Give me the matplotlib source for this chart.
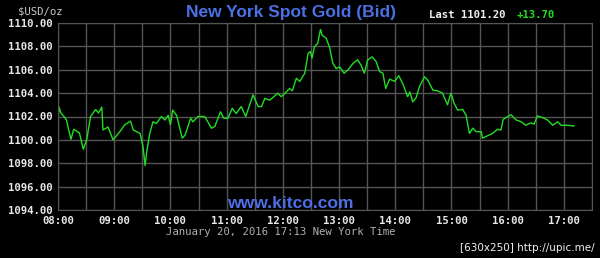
import matplotlib
matplotlib.use('Agg')
import matplotlib.pyplot as plt
import numpy as np

# time of day (decimal hours, New York) and bid price
hours = [8.00, 8.02, 8.05, 8.09, 8.15, 8.23, 8.28, 8.38, 8.45, 8.51,
         8.58, 8.67, 8.72, 8.78, 8.80, 8.89, 8.98, 9.10, 9.19, 9.29,
         9.34, 9.46, 9.51, 9.55, 9.58, 9.63, 9.69, 9.75, 9.84, 9.90,
         9.96, 10.00, 10.04, 10.11, 10.21, 10.26, 10.36, 10.40, 10.49, 10.61,
         10.73, 10.79, 10.89, 10.95, 11.02, 11.10, 11.17, 11.26, 11.34, 11.47,
         11.56, 11.62, 11.68, 11.77, 11.91, 11.97, 12.01, 12.12, 12.17, 12.24,
         12.30, 12.39, 12.45, 12.49, 12.52, 12.56, 12.62, 12.67, 12.70, 12.77,
         12.83, 12.89, 12.95, 13.01, 13.09, 13.16, 13.25, 13.33, 13.39, 13.45,
         13.51, 13.59, 13.66, 13.72, 13.78, 13.83, 13.90, 13.99, 14.06, 14.13,
         14.22, 14.26, 14.31, 14.37, 14.43, 14.52, 14.58, 14.67, 14.75, 14.84,
         14.93, 14.99, 15.05, 15.11, 15.20, 15.26, 15.32, 15.38, 15.44, 15.53,
         15.55, 15.64, 15.73, 15.82, 15.88, 15.92, 16.00, 16.06, 16.15, 16.24,
         16.32, 16.41, 16.47, 16.53, 16.62, 16.71, 16.80, 16.89, 16.95, 17.04,
         17.18]
price = [1101.8, 1102.8, 1102.3, 1102.1, 1101.7, 1100.05, 1100.9, 1100.6, 1099.2, 1100.0,
         1102.0, 1102.6, 1102.3, 1102.8, 1100.85, 1101.1, 1100.0, 1100.7, 1101.3, 1101.6,
         1100.85, 1100.55, 1099.5, 1097.8, 1099.0, 1100.5, 1101.55, 1101.4, 1102.0, 1101.7,
         1102.1, 1101.3, 1102.55, 1102.1, 1100.15, 1100.4, 1101.85, 1101.55, 1102.0, 1102.0,
         1101.0, 1101.15, 1102.4, 1101.85, 1101.85, 1102.7, 1102.25, 1102.85, 1102.0, 1103.85,
         1102.85, 1102.85, 1103.55, 1103.4, 1104.0, 1103.7, 1103.85, 1104.4, 1104.2, 1105.27,
         1105.0, 1105.7, 1107.4, 1107.55, 1107.0, 1107.95, 1108.25, 1109.45, 1108.95, 1108.7,
         1107.95, 1106.55, 1106.1, 1106.25, 1105.7, 1106.0, 1106.55, 1106.85, 1106.4, 1105.7,
         1106.85, 1107.1, 1106.7, 1105.85, 1105.7, 1104.4, 1105.2, 1105.0, 1105.5, 1104.85,
         1103.7, 1104.1, 1103.25, 1103.6, 1104.55, 1105.4, 1105.1, 1104.25, 1104.2, 1104.0,
         1103.0, 1104.0, 1103.1, 1102.55, 1102.6, 1102.1, 1100.55, 1101.0, 1100.7, 1100.7,
         1100.15, 1100.35, 1100.55, 1100.9, 1100.85, 1101.75, 1102.0, 1102.15, 1101.7, 1101.55,
         1101.25, 1101.45, 1101.35, 1102.05, 1101.9, 1101.7, 1101.25, 1101.55, 1101.25, 1101.25,
         1101.2]

y_ticks = [1094, 1096, 1098, 1100, 1102, 1104, 1106, 1108, 1110]
x_ticks = [8, 9, 10, 11, 12, 13, 14, 15, 16, 17]
x_labels = ['%02d:00' % h for h in x_ticks]

bg = 'black'
grid_col = '#555555'
green = '#22dd22'
blue = '#4d6fe6'
mono = 'DejaVu Sans Mono'

fig = plt.figure(figsize=(6, 2.58), dpi=100, facecolor=bg)
ax = fig.add_axes([58 / 600, 48 / 258, 534 / 600, 187 / 258], facecolor=bg)

ax.plot(hours, price, color=green, lw=1.0)

ax.set_xlim(8, 17.5)
ax.set_ylim(1094, 1110)
ax.set_xticks(np.arange(8, 17.51, 0.5), minor=True)
ax.set_xticks(x_ticks)
ax.set_xticklabels(x_labels, family=mono, weight='bold', fontsize=7.7, color='#e8e8e8')
ax.set_yticks(y_ticks)
ax.set_yticklabels(['%.2f' % v for v in y_ticks], family=mono, weight='bold', fontsize=7.7, color='#e8e8e8')
ax.tick_params(which='both', length=0, pad=4)
ax.grid(True, which='both', color=grid_col, lw=1)
for s in ax.spines.values():
    s.set_color(grid_col)

fig.text(18 / 600, 1 - 12 / 258, '$USD/oz', family=mono, fontsize=7.7, color='#c8c8c8', va='center')
fig.text(291 / 600, 1 - 12 / 258, 'New York Spot Gold (Bid)', family='Liberation Sans', weight='bold',
         fontsize=12.5, color=blue, ha='center', va='center')
fig.text(429 / 600, 1 - 15 / 258, 'Last 1101.20', family=mono, weight='bold', fontsize=7.7,
         color='#f0f0f0', va='center')
fig.text(517 / 600, 1 - 15 / 258, '+13.70', family=mono, weight='bold', fontsize=7.7,
         color=green, va='center')
fig.text(290 / 600, 1 - 203 / 258, 'www.kitco.com', family='Liberation Sans', weight='bold',
         fontsize=12.6, color=blue, ha='center', va='center')
fig.text(281 / 600, 1 - 232 / 258, 'January 20, 2016 17:13 New York Time', family=mono,
         fontsize=7.7, color='#b0b0b0', ha='center', va='center')
fig.text(595 / 600, 1 - 248 / 258, '[630x250] http://upic.me/', family='DejaVu Sans',
         fontsize=7.5, color='#f0f0f0', ha='right', va='center')

fig.savefig('out.png', dpi=100, facecolor=bg)
